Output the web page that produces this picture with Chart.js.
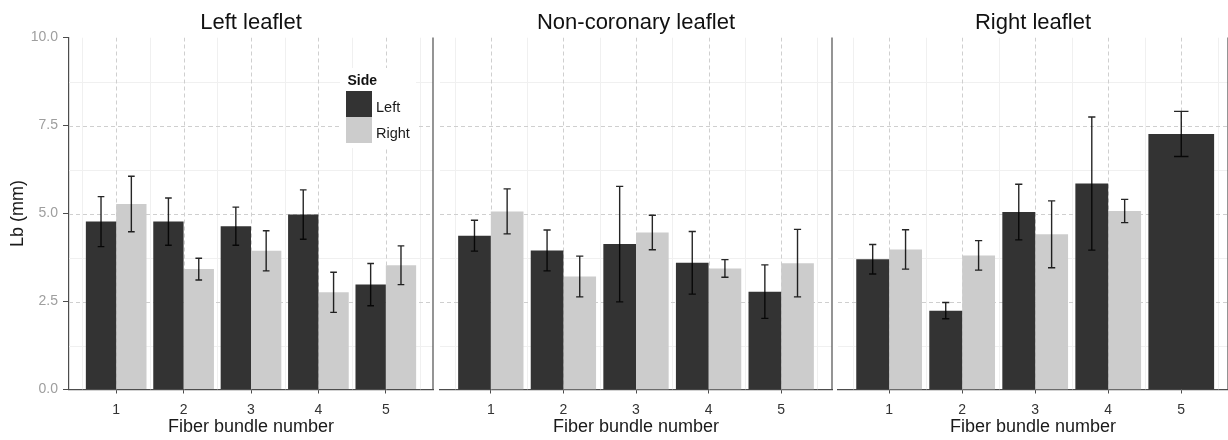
<!DOCTYPE html>
<html>
<head>
<meta charset="utf-8">
<script src="https://cdn.jsdelivr.net/npm/chart.js@4.4.1/dist/chart.umd.min.js"></script>
<style>
  html, body { margin: 0; padding: 0; background: #ffffff; }
  #wrap { position: relative; width: 1228px; height: 440px; overflow: hidden; }
  .panel { position: absolute; top: 0; height: 440px; }
</style>
</head>
<body>
<div id="wrap">
  <div class="panel" style="left:0px;width:440px"><canvas id="p1"></canvas></div>
  <div class="panel" style="left:433px;width:400px"><canvas id="p2"></canvas></div>
  <div class="panel" style="left:833px;width:395px"><canvas id="p3"></canvas></div>
</div>
<script>
// ---- data ----
const bundles = ['1', '2', '3', '4', '5'];
const bundlePositions = [1, 2, 3, 4, 5];
const yTicks = [0, 2.5, 5, 7.5, 10];
const sides = ['Left', 'Right'];
const panelTitles = ['Left leaflet', 'Non-coronary leaflet', 'Right leaflet'];

// mean Lb (mm) and standard deviation per fiber bundle
const leftLeafletLeft     = [4.77, 4.77, 4.64, 4.97, 2.98];
const leftLeafletLeftSd   = [0.71, 0.67, 0.54, 0.70, 0.60];
const leftLeafletRight    = [5.27, 3.42, 3.94, 2.76, 3.53];
const leftLeafletRightSd  = [0.79, 0.31, 0.57, 0.57, 0.55];

const nonCoronaryLeft     = [4.37, 3.95, 4.13, 3.60, 2.78];
const nonCoronaryLeftSd   = [0.44, 0.58, 1.64, 0.89, 0.76];
const nonCoronaryRight    = [5.06, 3.21, 4.46, 3.44, 3.59];
const nonCoronaryRightSd  = [0.64, 0.58, 0.49, 0.25, 0.96];

const rightLeafletLeft    = [3.70, 2.24, 5.04, 5.85, 7.26];
const rightLeafletLeftSd  = [0.42, 0.23, 0.79, 1.89, 0.64];
const rightLeafletRight   = [3.98, 3.81, 4.41, 5.07, null];
const rightLeafletRightSd = [0.56, 0.42, 0.95, 0.33, null];

// ---- styling ----
const FONT = '"Liberation Sans", Arial, Helvetica, sans-serif';
const DARK = '#333333';
const LIGHT = '#cccccc';
const AXIS = '#4d4d4d';

function points(values) {
  return values.map((v, i) => ({ x: bundlePositions[i], y: v }));
}

// grid, error bars, strip title, panel border and legend
const panelDecor = {
  id: 'panelDecor',
  beforeDatasetsDraw(chart, args, opts) {
    const { ctx, chartArea: a, scales: { x, y } } = chart;
    ctx.save();
    ctx.beginPath();
    ctx.rect(a.left, a.top, a.right - a.left, a.bottom - a.top);
    ctx.clip();
    ctx.lineWidth = 1;
    // minor lines
    ctx.strokeStyle = '#f0f0f0';
    ctx.setLineDash([]);
    for (let i = 0; i < yTicks.length - 1; i++) {
      const py = Math.round(y.getPixelForValue((yTicks[i] + yTicks[i + 1]) / 2)) + 0.5;
      ctx.beginPath(); ctx.moveTo(a.left, py); ctx.lineTo(a.right, py); ctx.stroke();
    }
    const minorX = bundlePositions.map(p => p - 0.5).concat([bundlePositions[bundlePositions.length - 1] + 0.5]);
    minorX.forEach(v => {
      const px = Math.round(x.getPixelForValue(v)) + 0.5;
      ctx.beginPath(); ctx.moveTo(px, a.top); ctx.lineTo(px, a.bottom); ctx.stroke();
    });
    // major dashed lines
    ctx.strokeStyle = '#cfcfcf';
    ctx.setLineDash([4, 3]);
    yTicks.forEach(v => {
      if (v <= y.min || v >= y.max) return;
      const py = Math.round(y.getPixelForValue(v)) + 0.5;
      ctx.beginPath(); ctx.moveTo(a.left, py); ctx.lineTo(a.right, py); ctx.stroke();
    });
    bundlePositions.forEach(v => {
      const px = Math.round(x.getPixelForValue(v)) + 0.5;
      ctx.beginPath(); ctx.moveTo(px, a.top); ctx.lineTo(px, a.bottom); ctx.stroke();
    });
    ctx.restore();
  },
  afterDatasetsDraw(chart) {
    const { ctx, scales: { y } } = chart;
    ctx.save();
    ctx.strokeStyle = 'rgba(0,0,0,0.85)';
    ctx.lineWidth = 1.4;
    chart.data.datasets.forEach((ds, d) => {
      const meta = chart.getDatasetMeta(d);
      meta.data.forEach((bar, i) => {
        const mean = ds.data[i].y;
        const sd = ds.sd[i];
        if (mean == null || sd == null) return;
        const top = y.getPixelForValue(mean + sd);
        const bot = y.getPixelForValue(mean - sd);
        const cap = bar.width * 0.22 / 2;
        ctx.beginPath();
        ctx.moveTo(bar.x, top); ctx.lineTo(bar.x, bot);
        ctx.moveTo(bar.x - cap, top); ctx.lineTo(bar.x + cap, top);
        ctx.moveTo(bar.x - cap, bot); ctx.lineTo(bar.x + cap, bot);
        ctx.stroke();
      });
    });
    ctx.restore();
  },
  afterDraw(chart, args, opts) {
    const { ctx, chartArea: a } = chart;
    ctx.save();
    // strip title
    ctx.fillStyle = '#111111';
    ctx.font = '22px ' + FONT;
    ctx.textAlign = 'center';
    ctx.textBaseline = 'alphabetic';
    ctx.fillText(opts.title, (a.left + a.right) / 2, 29);
    // right border of the panel
    ctx.strokeStyle = AXIS;
    ctx.lineWidth = 1.2;
    ctx.beginPath();
    ctx.moveTo(a.right, a.top); ctx.lineTo(a.right, a.bottom);
    ctx.stroke();
    // legend
    if (opts.legend) {
      const lx = 346, ly = 91, sw = 26, sh = 26;
      ctx.fillStyle = '#ffffff';
      ctx.fillRect(lx - 6, ly - 23, 76, 80);
      ctx.fillStyle = '#111111';
      ctx.textAlign = 'left';
      ctx.font = 'bold 14px ' + FONT;
      ctx.fillText('Side', lx + 1.5, ly - 6);
      ctx.font = '14.5px ' + FONT;
      chart.data.datasets.forEach((ds, d) => {
        ctx.fillStyle = ds.backgroundColor;
        ctx.fillRect(lx, ly + d * sh, sw, sh);
        ctx.fillStyle = '#1a1a1a';
        ctx.fillText(ds.label, lx + sw + 4, ly + d * sh + 21);
      });
    }
    ctx.restore();
  }
};

function makeChart(id, title, leftVals, leftSd, rightVals, rightSd, showY, xMax, padding, legend) {
  const yScale = {
    display: showY,
    min: 0, max: 10, z: 1,
    afterBuildTicks: s => { s.ticks = yTicks.map(v => ({ value: v })); },
    grid: { display: true, drawOnChartArea: false, drawTicks: true, tickLength: 6, color: AXIS, lineWidth: 1 },
    border: { display: true, color: AXIS, width: 1.2 },
    ticks: { padding: 5, color: '#9e9e9e', font: { size: 14, family: FONT }, callback: v => Number(v).toFixed(1) },
    title: { display: true, text: 'Lb (mm)', color: '#1a1a1a', font: { size: 18, family: FONT }, padding: { top: 7, bottom: 0 } }
  };
  if (showY) yScale.afterFit = s => { s.width = 69; };

  return new Chart(document.getElementById(id), {
    type: 'bar',
    data: {
      datasets: [
        { label: sides[0], data: points(leftVals), sd: leftSd, backgroundColor: DARK, borderWidth: 0 },
        { label: sides[1], data: points(rightVals), sd: rightSd, backgroundColor: LIGHT, borderWidth: 0 }
      ]
    },
    options: {
      responsive: true,
      maintainAspectRatio: false,
      animation: false,
      devicePixelRatio: 1,
      skipNull: true,
      categoryPercentage: 0.9,
      barPercentage: 1.0,
      layout: { padding: padding },
      plugins: {
        legend: { display: false },
        tooltip: { enabled: false },
        panelDecor: { title: title, legend: legend }
      },
      scales: {
        x: {
          type: 'linear', min: 0.3, max: xMax, offset: false, z: 1,
          afterBuildTicks: s => { s.ticks = bundlePositions.map(v => ({ value: v })); },
          afterFit: s => { s.height = 50.5; },
          grid: { display: true, offset: false, drawOnChartArea: false, drawTicks: true, tickLength: 4, color: AXIS, lineWidth: 1 },
          border: { display: true, color: AXIS, width: 1.2 },
          ticks: { padding: 8, color: '#333333', font: { size: 14, family: FONT }, maxRotation: 0, autoSkip: false,
                   callback: (v, i) => bundles[i] },
          title: { display: true, text: 'Fiber bundle number', color: '#1a1a1a', font: { size: 18, family: FONT }, padding: { top: 0, bottom: 2 } }
        },
        y: yScale
      }
    },
    plugins: [panelDecor]
  });
}

makeChart('p1', panelTitles[0], leftLeafletLeft, leftLeafletLeftSd, leftLeafletRight, leftLeafletRightSd,
          true, 5.7, { left: 0, right: 7, top: 37.5, bottom: 0 }, true);
makeChart('p2', panelTitles[1], nonCoronaryLeft, nonCoronaryLeftSd, nonCoronaryRight, nonCoronaryRightSd,
          false, 5.7, { left: 7, right: 1, top: 37.5, bottom: 0 }, false);
makeChart('p3', panelTitles[2], rightLeafletLeft, rightLeafletLeftSd, rightLeafletRight, rightLeafletRightSd,
          false, 5.64, { left: 5, right: 0, top: 37.5, bottom: 0 }, false);
</script>
</body>
</html>
